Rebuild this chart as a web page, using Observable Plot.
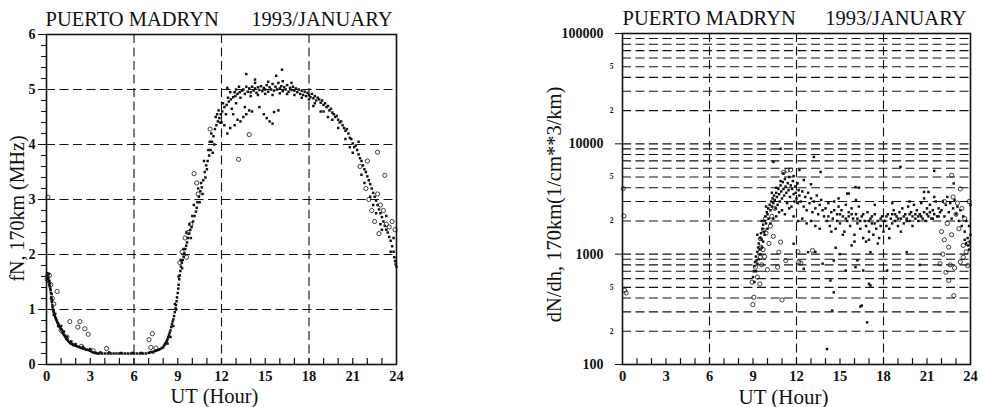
<!DOCTYPE html>
<html><head><meta charset="utf-8">
<script src="https://cdn.jsdelivr.net/npm/d3@7"></script>
<script src="https://cdn.jsdelivr.net/npm/@observablehq/plot@0.6"></script>
<style>
body{margin:0;background:#fff;}
#wrap{position:relative;width:983px;height:407px;display:flex;}
#wrap svg{display:block;}
#wrap svg, #wrap svg text{font-family:"Liberation Serif","Times New Roman",serif !important;}
</style></head><body><div id="wrap"></div>
<script>
const station = "PUERTO MADRYN";
const period = "1993/JANUARY";
const xLabel = "UT (Hour)";
const fnLabel = "fN, 170km (MHz)";
const dnLabel = "dN/dh, 170km(1/cm**3/km)";

const xTicks = [0,3,6,9,12,15,18,21,24];
const xGrid = [6,12,18];
const hourTicks = [1,2,3,4,5,6,7,8,9,10,11,12,13,14,15,16,17,18,19,20,21,22,23];
const fnTicks = [0,1,2,3,4,5,6];
const fnGrid = [1,2,3,4,5];
const fnMinor = [0.2,0.4,0.6,0.8,1.2,1.4,1.6,1.8,2.2,2.4,2.6,2.8,3.2,3.4,3.6,3.8,4.2,4.4,4.6,4.8,5.2,5.4,5.6,5.8];
const dnTicks = [100,1000,10000,100000];
const dnGrid = [200,300,400,500,600,700,800,900,1000,2000,3000,4000,5000,6000,7000,8000,9000,10000,20000,30000,40000,50000,60000,70000,80000,90000];
const dnSmall = [200,500,2000,5000,20000,50000];

// fN at 170 km (MHz): small filled markers [UT hour, fN]
const fnDots = [
[0.02,1.62],[0.04,1.66],[0.06,1.58],[0.08,1.64],[0.1,1.55],[0.12,1.6],[0.14,1.5],[0.16,1.65],[0.18,1.45],[0.2,1.52],[0.22,1.42],[0.24,1.47],[0.26,1.38],[0.28,1.35],[0.3,1.3],[0.32,1.22],[0.34,1.2],[0.36,1.14],[0.38,1.17],[0.4,1.08],[0.42,1.04],[0.45,1.0],[0.48,0.97],[0.5,0.95],[0.53,0.92],[0.56,0.9],[0.6,0.86],[0.63,0.84],[0.66,0.82],[0.7,0.8],[0.74,0.77],[0.78,0.75],[0.82,0.73],[0.86,0.7],[0.9,0.69],[0.95,0.67],[1.0,0.64],[1.05,0.62],[1.1,0.58],[1.15,0.56],[1.2,0.54],[1.25,0.52],[1.3,0.5],[1.36,0.47],[1.42,0.45],[1.48,0.43],[1.55,0.41],[1.62,0.39],[1.7,0.38],[1.78,0.37],[1.85,0.35],[1.92,0.36],[2.0,0.34],[2.1,0.33],[2.2,0.32],[2.3,0.31],[2.4,0.3],[2.5,0.29],[2.6,0.29],[2.7,0.27],[2.8,0.27],[2.9,0.26],[3.0,0.25],[3.1,0.23],[3.2,0.22],[3.3,0.21],[3.4,0.21],[3.5,0.2],
[0.35,1.28],[0.5,0.9],[0.6,0.92],[0.8,0.7],[1.0,0.7],[1.2,0.6],[1.4,0.5],[1.7,0.42],[2.0,0.37],[2.5,0.32],[3.0,0.28],
[3.6,0.2],[3.8,0.2],[4.0,0.2],[4.2,0.2],[4.4,0.2],[4.6,0.2],[4.8,0.2],[5.0,0.2],[5.2,0.2],[5.4,0.2],[5.6,0.2],[5.8,0.2],[6.0,0.2],[6.2,0.2],[6.4,0.2],[6.6,0.2],[6.8,0.2],[7.0,0.21],[3.7,0.22],[4.3,0.22],[5.1,0.21],[5.9,0.21],[6.5,0.21],
[7.1,0.22],[7.2,0.23],[7.3,0.22],[7.4,0.24],[7.5,0.25],[7.6,0.26],[7.7,0.27],[7.8,0.28],[7.9,0.3],[8.0,0.31],[8.05,0.34],[8.1,0.36],[8.15,0.38],[8.2,0.4],[8.25,0.43],[8.3,0.46],[8.35,0.5],[8.4,0.54],[8.45,0.58],[8.5,0.62],[8.55,0.68],[8.6,0.73],[8.65,0.78],[8.7,0.82],[8.75,0.88],[8.8,0.95],[8.85,1.02],[8.88,1.08],[8.92,1.15],[8.95,1.22],[9.0,1.3],[9.03,1.38],[9.06,1.45],[9.1,1.55],[9.14,1.62],[9.18,1.7],[9.22,1.78],[9.28,1.85],[9.34,1.9],[9.4,1.96],[9.46,2.02],[9.52,2.1],[9.58,2.16],[9.64,2.22],[9.7,2.3],[9.78,2.38],[9.86,2.45],[9.95,2.5],[10.05,2.6],[10.15,2.7],[10.25,2.78],[10.35,2.95],[10.45,3.05],[10.55,3.15],[10.65,3.22],[10.75,3.35],[10.85,3.5],[10.95,3.62],[11.05,3.7],[11.15,3.8],[11.25,3.9],[11.35,4.05],[11.45,4.15],[11.55,4.28],[11.65,4.35],[11.75,4.42],[11.85,4.48],[11.95,4.55],[12.05,4.6],[12.2,4.68],[12.35,4.72],[12.5,4.78],[12.65,4.82],[12.8,4.86],[12.95,4.88],[13.1,4.92],[13.25,4.95],[13.4,4.98],
[8.3,0.38],[8.5,0.5],[8.7,0.7],[8.9,1.0],[9.2,1.9],[9.4,2.1],[9.6,2.4],[10.0,2.7],[10.3,2.85],[10.6,3.3],[10.9,3.4],[11.1,3.9],[11.3,4.2],[11.5,4.0],[11.7,4.55],[11.9,4.4],[12.1,4.75],[12.3,4.55],[12.45,4.85],[12.7,4.65],[12.9,4.95],[13.0,4.75],[13.3,4.85],[11.8,4.62],[12.0,4.4],[11.6,4.5],
[9.8,2.55],[10.1,2.9],[10.4,3.2],[10.7,3.1],[10.8,3.7],[11.0,3.55],[11.2,4.05],[11.4,3.85],[9.9,2.3],[10.5,2.95],[8.8,1.1],[9.05,1.6],[9.3,1.75],
[12.4,4.2],[12.6,4.3],[12.9,4.35],[13.1,4.45],[13.3,4.42],[13.5,4.5],[13.7,4.55],[13.9,4.62],[14.1,4.6],[14.9,4.55],[15.1,4.48],[15.3,4.42],[15.5,4.38],[14.6,4.68],[12.2,4.35],[12.8,4.55],[13.6,4.68],[15.6,4.59],[15.9,4.62],
[13.5,5.0],[13.6,4.92],[13.7,5.05],[13.8,4.96],[13.9,5.02],[14.0,4.95],[14.1,5.05],[14.2,4.98],[14.3,5.02],[14.4,4.94],[14.5,5.04],[14.6,4.99],[14.7,5.06],[14.8,4.97],[14.9,5.03],[15.0,5.0],[15.1,5.08],[15.2,4.96],[15.3,5.04],[15.4,5.0],[15.5,5.1],[15.6,4.98],[15.7,5.05],[15.8,5.0],[15.9,5.12],[16.0,5.02],[16.1,5.06],[16.2,4.97],[16.3,5.04],[16.4,5.0],[16.5,5.08],[16.6,4.96],[16.7,5.03],[16.8,4.99],[16.9,5.05],[17.0,4.98],[17.1,5.02],[17.2,4.95],[17.3,5.0],[17.4,4.92],[17.5,4.98],[17.6,4.9],[17.7,4.96],[17.8,4.88],[17.9,4.94],[18.0,4.9],[18.1,4.86],[18.2,4.92],[18.3,4.84],[18.4,4.88],[18.5,4.8],[18.6,4.85],
[14.0,4.88],[14.5,4.9],[15.0,4.92],[15.5,4.9],[16.0,4.93],[16.5,4.92],[17.0,4.9],[17.5,4.85],[18.0,4.82],[14.3,5.12],[15.2,5.14],[16.2,5.15],[16.8,5.12],[13.2,5.05],[13.0,5.0],[12.6,4.95],[12.4,5.03],
[13.7,5.28],[16.15,5.36],[15.75,5.25],[14.3,5.18],
[18.7,4.82],[18.8,4.76],[18.9,4.8],[19.0,4.72],[19.1,4.75],[19.2,4.68],[19.3,4.7],[19.4,4.62],[19.5,4.65],[19.6,4.58],[19.7,4.55],[19.8,4.5],[19.9,4.52],[20.0,4.45],[20.1,4.4],[20.2,4.42],[20.3,4.35],[20.4,4.3],[20.5,4.25],[20.6,4.28],[20.7,4.2],[20.8,4.12],[20.9,4.1],[21.0,4.02],[21.1,3.95],[21.2,3.98],[21.3,3.9],[21.4,3.82],[21.5,3.75],[21.6,3.7],[21.7,3.62],[21.8,3.55],[21.9,3.5],[22.0,3.42],[22.1,3.35],[22.2,3.28],[22.3,3.2],[22.4,3.12],[22.5,3.05],[22.6,2.98],[22.7,2.9],[22.8,2.82],[22.9,2.75],[23.0,2.68],[23.1,2.6],[23.2,2.52],[23.3,2.45],[23.4,2.4],[23.5,2.32],[23.6,2.25],[23.7,2.15],[23.8,2.05],[23.85,1.95],[23.9,1.88],[23.95,1.82],[24.0,1.78],
[19.0,4.6],[19.6,4.45],[20.0,4.3],[20.5,4.1],[21.0,3.85],[21.4,4.05],[21.8,3.3],[22.2,3.05],[22.6,2.75],[23.0,2.45],[23.3,2.7],[23.6,2.05],[23.8,2.3],[21.6,3.45],[22.4,2.9],[22.9,2.55],[20.8,3.95],[19.3,4.5],[18.8,4.6],[18.3,4.7],[18.4,4.75]
];
// fN at 170 km (MHz): open circle markers
const fnCircles = [
[0.1,3.04],[0.05,1.55],[0.2,1.62],[0.3,1.45],[0.73,1.33],[0.4,1.2],[0.5,1.1],[1.6,0.78],[2.15,0.68],[2.29,0.78],[2.63,0.65],[2.86,0.55],[4.12,0.29],[7.03,0.45],[7.26,0.56],[7.15,0.31],[7.5,0.3],[9.15,1.85],[9.3,2.05],[9.5,2.3],[9.6,1.95],[9.7,2.4],[9.9,2.55],[10.12,3.47],[10.3,3.3],[11.22,4.28],[13.9,4.18],[13.17,3.73],[10.4,3.1],[1.0,0.62],[1.4,0.5],[2.4,0.33],[3.2,0.25],
[21.9,3.2],[22.1,3.0],[22.3,2.8],[22.5,2.6],[22.7,3.1],[22.9,2.9],[23.1,2.8],[23.3,2.55],[23.5,2.5],[22.7,3.86],[23.2,3.44],[22.8,2.38],[23.7,2.6],[23.9,2.45],[21.5,3.6],[22.0,3.7]
];

// dN/dh at 170 km (1/cm^3/km): small filled markers [UT hour, value]
const dnDots = [
[9.0,620],[9.05,700],[9.1,780],[9.15,850],[9.2,950],[9.25,880],[9.3,1050],[9.35,1150],[9.4,1250],[9.45,1100],[9.5,1400],[9.55,1550],[9.6,1350],[9.65,1700],[9.7,1850],[9.75,1600],[9.8,2000],[9.85,2200],[9.9,1900],[9.95,2400],[10.0,2300],[10.05,2600],[10.1,2100],[10.15,2800],[10.2,2500],[10.25,3000],[10.3,2700],[10.35,3200],[10.4,2900],[10.45,3400],[10.5,3100],[10.55,2600],[10.6,3600],[10.65,3300],[10.7,2800],[10.75,3900],[10.8,3500],[10.85,3000],[10.9,4200],[10.95,3700],[11.0,3200],[11.05,4500],[11.1,3900],[11.15,3400],[11.2,4800],[11.25,4100],[11.3,3600],[11.35,2900],[11.4,4400],[11.45,3800],[11.5,5000],[11.55,3300],[11.6,4200],[11.65,2700],[11.7,3900],[11.75,4600],[11.8,3500],[11.85,3000],[11.9,4100],[11.95,3600],[12.0,3200],[12.05,4400],[12.1,2900],[12.15,3800],[12.2,3400],[12.3,3000],[12.4,3700],[12.5,2700],[12.6,3300],[12.7,2500],[12.8,3600],[12.9,2900],[13.0,3200],[13.1,2400],[13.2,3000],[13.3,2600],[13.4,3400],[13.5,2300],[13.6,2800],[13.7,3100],[13.8,2500],[13.9,2200],
[9.1,560],[9.2,700],[9.3,820],[9.4,900],[9.5,1000],[9.6,1150],[9.7,1300],[9.8,1500],[10.0,1700],[10.2,1900],[10.4,2100],[10.6,2200],[10.8,2400],[11.0,2500],[11.2,2300],[11.5,2600],[11.8,2200],[12.1,2000],[12.4,2100],[12.7,1900],[13.0,2000],[13.3,1800],[13.6,1700],[9.3,1500],[9.6,2000],[9.9,2700],[10.3,3600],[10.6,4000],[10.9,4600],
[10.9,9010],[10.4,6860],[13.2,7600],[13.66,5560],[12.05,4370],[11.1,5400],[11.8,5100],[12.5,4700],[13.0,4300],[12.2,5800],[16.07,4060],[15.6,3540],[15.5,3540],[19.17,6190],[21.1,3660],[21.5,5690],[22.84,4370],[20.8,3660],[16.3,4010],
[14.0,2600],[14.1,2000],[14.2,2900],[14.3,1800],[14.4,2400],[14.5,2100],[14.6,3000],[14.7,1700],[14.8,2300],[14.9,2700],[15.0,1900],[15.1,2500],[15.2,2200],[15.3,1600],[15.4,2800],[15.5,2000],[15.6,2400],[15.7,1800],[15.8,2600],[15.9,2100],[16.0,1500],[16.1,2300],[16.2,1900],[16.3,2700],[16.4,1700],[16.5,2200],[16.6,1400],[16.7,2000],[16.8,1800],[16.9,2400],[17.0,1600],[17.1,2100],[17.2,1900],[17.3,1500],[17.4,2300],[17.5,1700],[17.6,2000],[17.7,1400],[17.8,1800],[17.9,2200],[18.0,1600],[18.1,2000],[18.2,1800],[18.3,2300],[18.4,1700],[18.5,2100],[18.6,1900],[18.7,2500],[18.8,2000],[18.9,2200],[19.0,1800],[19.1,2400],[19.2,2100],[19.3,2600],[19.4,1900],[19.5,2300],[19.6,2100],[19.7,2700],[19.8,2000],[19.9,2400],[20.0,2200],[20.1,2800],[20.2,2100],[20.3,2500],[20.4,2000],[20.5,2300],[20.6,2900],[20.7,2100],[20.8,2400],[20.9,2000],[21.0,2600],[21.1,2200],[21.2,2800],[21.3,2100],[21.4,2500],[21.5,2300],[21.6,3000],[21.7,2200],[21.8,2600],[21.9,2400],
[14.2,2200],[14.6,2500],[15.0,2300],[15.4,2100],[15.8,2300],[16.2,2100],[16.6,2300],[17.0,2000],[17.4,1900],[17.8,2100],[18.2,2200],[18.6,2300],[19.0,2100],[19.4,2200],[19.8,2300],[20.2,2300],[20.6,2200],[21.0,2300],[21.4,2100],[21.8,2200],[14.8,2000],[15.6,2200],[16.4,2000],[17.2,2200],[18.0,2000],[18.8,2300],[19.6,2000],[20.4,2200],[21.2,2400],[14.4,1600],[15.2,1500],[16.0,1300],[16.8,1300],[17.6,1250],[18.4,1400],[19.2,1600],[20.0,1800],[15.8,1200],[17.0,1350],[14.9,3200],[16.1,3100],[17.4,2800],[18.6,2900],[19.8,3000],[20.8,3200],[21.5,3300],
[14.7,1143],[14.57,876],[14.57,451],[16.07,762],[16.5,342],[17.1,520],[16.87,241],[16.4,335],[14.1,138],[17.0,538],[17.1,1042],[14.34,577],[14.46,308],[15.4,711],[16.2,880],[15.0,1000],[13.8,820],[13.3,1050],[12.5,737],[12.8,1042],[11.8,1243],[19.6,1042],[18.25,711],[20.5,800],[16.6,711],
[22.0,2500],[22.1,3000],[22.2,2200],[22.3,2800],[22.4,3300],[22.5,2400],[22.6,2900],[22.7,2100],[22.8,2600],[22.9,3100],[23.0,2300],[23.1,2700],[23.2,2000],[23.3,2500],[23.4,1800],[23.5,2200],[23.6,1600],[23.7,2000],[23.8,1400],[23.9,1800],[24.0,1500],[23.85,1200],[23.95,1300],[23.7,1250],[23.9,1100],[24.0,2800],[23.6,1350]
];
// dN/dh at 170 km: open circle markers
const dnCircles = [
[0.05,3930],[0.1,2220],[0.15,470],[0.25,445],[8.99,349],[9.06,407],[8.94,557],[9.47,538],[9.17,762],[9.5,939],[9.55,1158],[9.5,1380],[9.75,1642],[9.86,2098],[10.9,1286],[10.78,1042],[11.26,876],[10.7,762],[11.0,385],[12.16,846],[13.1,1080],[10.0,722],[9.3,620],[9.6,800],[9.8,950],[10.1,1250],[10.4,1450],[9.9,1550],[9.7,1100],[11.36,5760],[11.6,5800],[11.1,5500],[12.3,830],[12.1,1050],[10.3,2200],[10.5,2600],[10.2,1800],
[22.7,5190],[22.5,1158],[21.9,818],[22.3,686],[22.5,577],[22.85,421],[23.8,789],[23.5,939],[23.8,1243],[22.2,1350],[22.0,1600],[22.4,1900],[22.7,1500],[23.0,2300],[23.2,1700],[23.4,2600],[23.6,2100],[23.1,2900],[22.8,3300],[22.2,3000],[23.9,3000],[23.3,3900],[22.6,800],[22.9,750],[23.5,1200],[23.7,1050],[23.3,850],[22.1,1000]
];

const serif = "Liberation Serif";
const ink = "#111";
const dash = "9,4.5";

function panel({width, mL, mR, mT, yOpt, grid, majorTicks, tickSizeY, padY, extraY, title1dx, title2dx, ylab, ylabDx, ylabDy, xlabDx, xlabDy, xlabSize, ylabSize, tickLen, dots, circles}) {
  return Plot.plot({
    width, height: 407,
    marginLeft: mL, marginRight: mR, marginTop: mT, marginBottom: 43,
    style: {background: "white", color: ink},
    x: {domain: [0, 24]},
    y: yOpt,
    marks: [
      Plot.ruleY(grid, {stroke: ink, strokeWidth: 1.1, strokeDasharray: dash}),
      Plot.ruleX(xGrid, {stroke: ink, strokeWidth: 1.1, strokeDasharray: dash}),
      Plot.ruleX(hourTicks, {x: d => d, y1: yOpt.domain[0], y2: tickLen, stroke: ink, strokeWidth: 1.2}),
      ...extraY,
      Plot.axisY(majorTicks, {tickSize: tickSizeY, tickPadding: padY, fontSize: 14, fontWeight: "bold", fontFamily: serif, tickFormat: d => String(d), label: null, stroke: ink, fill: ink}),
      Plot.axisX(xTicks, {tickSize: 0, tickPadding: 6, fontSize: 14.5, fontWeight: "bold", fontFamily: serif, tickFormat: d => String(d), label: null, fill: ink}),
      Plot.frame({stroke: ink, strokeWidth: 1.6}),
      Plot.dot(dots, {x: d => d[0], y: d => d[1], symbol: "square", r: 1.4, fill: ink}),
      Plot.dot(circles, {x: d => d[0], y: d => d[1], r: 2.1, stroke: ink, strokeWidth: 0.8, fill: "none"}),
      Plot.text([station], {frameAnchor: "top-left", lineAnchor: "bottom", dy: -9, dx: title1dx, fontSize: 20.5, fontFamily: serif, fill: ink}),
      Plot.text([period], {frameAnchor: "top-right", lineAnchor: "bottom", dy: -9, dx: title2dx, fontSize: 20.5, fontFamily: serif, fill: ink}),
      Plot.text([xLabel], {frameAnchor: "bottom", textAnchor: "middle", lineAnchor: "bottom", dy: xlabDy, dx: xlabDx, fontSize: xlabSize, fontFamily: serif, fill: ink}),
      Plot.text([ylab], {frameAnchor: "left", textAnchor: "middle", rotate: -90, lineAnchor: "bottom", dx: ylabDx, dy: ylabDy, fontSize: ylabSize, fontFamily: serif, fill: ink})
    ]
  });
}

const left = panel({
  width: 520, mL: 46, mR: 124, mT: 34,
  yOpt: {domain: [0, 6]},
  grid: fnGrid, majorTicks: fnTicks, tickSizeY: 8, padY: 3,
  extraY: [Plot.axisY(fnMinor, {tickSize: 5, fill: "none", label: null, stroke: ink})],
  title1dx: -1, title2dx: -4, ylab: fnLabel, ylabDx: -23, ylabDy: 9,
  xlabDx: -7, xlabDy: 38, xlabSize: 20.5, ylabSize: 20, tickLen: 0.11,
  dots: fnDots, circles: fnCircles
});

const right = panel({
  width: 463, mL: 102, mR: 13, mT: 33,
  yOpt: {type: "log", domain: [100, 100000]},
  grid: dnGrid, majorTicks: dnTicks, tickSizeY: 7, padY: 12,
  extraY: [Plot.text(dnSmall, {y: d => d, frameAnchor: "left", text: d => String(d)[0], textAnchor: "end", dx: -9, fontSize: 7.5, fontWeight: "bold", fontFamily: serif, fill: ink})],
  title1dx: 0, title2dx: -4, ylab: dnLabel, ylabDx: -62, ylabDy: 5.5,
  xlabDx: -13, xlabDy: 39, xlabSize: 21, ylabSize: 20.5, tickLen: 113,
  dots: dnDots, circles: dnCircles
});

document.getElementById("wrap").append(left, right);
</script></body></html>
